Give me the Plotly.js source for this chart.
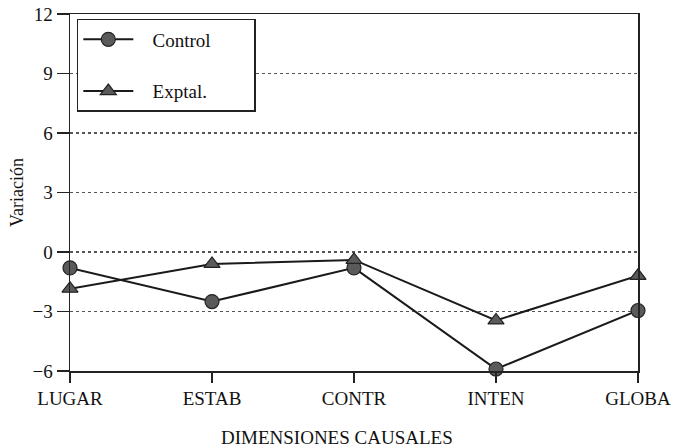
<!DOCTYPE html>
<html>
<head>
<meta charset="utf-8">
<script src="https://cdn.plot.ly/plotly-3.0.1.min.js"></script>
<style>html,body{margin:0;padding:0;background:#fff;}#chart{width:673px;height:448px;}</style>
</head>
<body>
<div id="chart"></div>
<script>
const categories = ["LUGAR", "ESTAB", "CONTR", "INTEN", "GLOBA"];
const controlValues = [-0.8, -2.5, -0.8, -5.9, -2.95];
const exptalValues = [-1.85, -0.6, -0.4, -3.45, -1.2];
const yTicks = [-6, -3, 0, 3, 6, 9, 12];
const seriesNames = ["Control", "Exptal."];
const xTitle = "DIMENSIONES CAUSALES";
const yTitle = "Variación";

const font = {family: "Liberation Serif, Times New Roman, serif", color: "#111", size: 19};
const lead = "\u00a0".repeat(3);
const pad = "\u00a0".repeat(8);

const traces = [
  {
    x: categories, y: controlValues, name: lead + seriesNames[0] + pad, type: "scatter", mode: "lines+markers",
    legendgroup: "a",
    line: {color: "#1a1a1a", width: 2},
    marker: {symbol: "circle", size: 14, color: "#5a5a5a", line: {color: "#222", width: 1.2}},
    cliponaxis: false
  },
  {
    x: categories, y: exptalValues, name: lead + seriesNames[1] + pad, type: "scatter", mode: "lines+markers",
    legendgroup: "b",
    line: {color: "#1a1a1a", width: 2},
    marker: {symbol: "triangle-up", size: 14, color: "#5a5a5a", line: {color: "#222", width: 1.2}},
    cliponaxis: false
  }
];

const layout = {
  width: 673, height: 448,
  margin: {l: 70, r: 35, t: 14, b: 77},
  paper_bgcolor: "#fff", plot_bgcolor: "#fff",
  font: font,
  showlegend: true,
  legend: {
    x: 0.012, y: 0.986, xanchor: "left", yanchor: "top",
    bordercolor: "#222", borderwidth: 1.5, bgcolor: "#fff",
    font: {family: font.family, size: 19, color: "#111"},
    tracegroupgap: 24, traceorder: "grouped",
    itemwidth: 50
  },
  annotations: [{
    text: xTitle, xref: "paper", yref: "paper", x: 0.47, y: -0.185,
    xanchor: "center", yanchor: "middle", showarrow: false,
    font: {family: font.family, size: 19, color: "#111"}
  }],
  xaxis: {
    type: "category",
    range: [0, 4],
    showline: true, linecolor: "#222", linewidth: 1.5, mirror: true,
    ticks: "outside", ticklen: 10, tickcolor: "#222", tickwidth: 1.5,
    showgrid: false, zeroline: false,
    tickfont: {family: font.family, size: 19, color: "#111"}
  },
  yaxis: {
    range: [-6, 12],
    tickvals: yTicks,
    showline: true, linecolor: "#222", linewidth: 1.5, mirror: true,
    ticks: "outside", ticklen: 12, tickcolor: "#222", tickwidth: 1.5,
    showgrid: true, gridcolor: "#555", gridwidth: 1.5, griddash: "dot",
    zeroline: false,
    tickfont: {family: font.family, size: 19, color: "#111"},
    title: {text: yTitle, font: {family: font.family, size: 18, color: "#111"}, standoff: 4}
  }
};

Plotly.newPlot("chart", traces, layout, {displayModeBar: false, staticPlot: true});
</script>
</body>
</html>
